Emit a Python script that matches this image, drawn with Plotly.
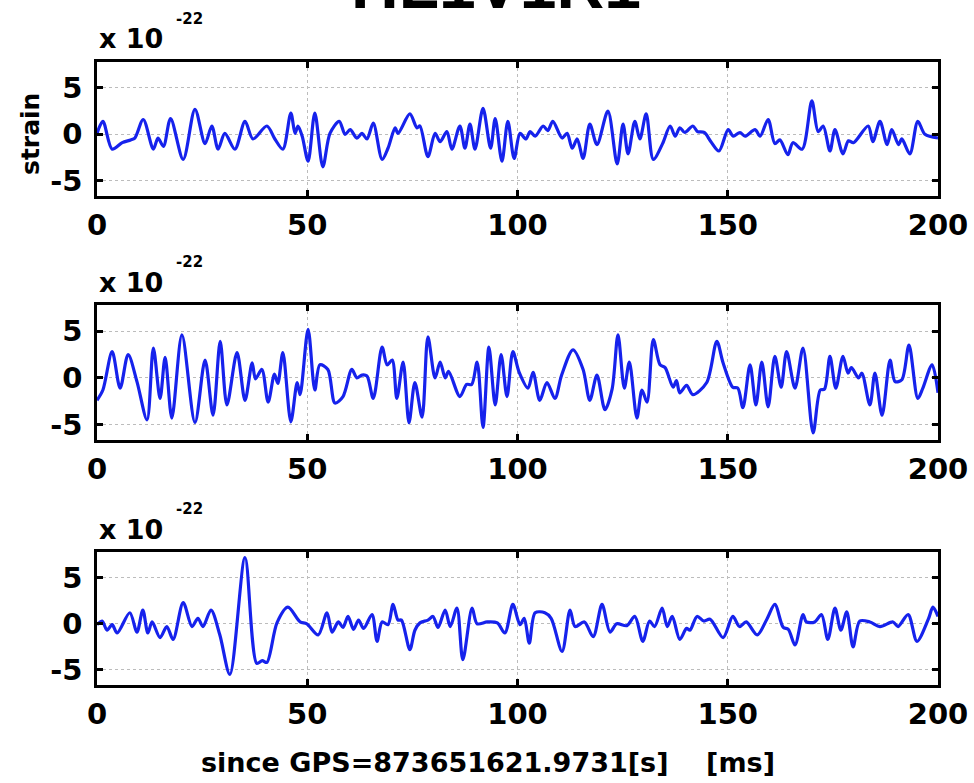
import plotly.graph_objects as go

# Whitened strain for three detectors, 0-200 ms (units of 1e-22)
t1 = [0, 1.4, 3.6, 6, 8, 9, 11, 13.4, 14.5, 15.8, 17.5, 20.5, 23.3, 25.7, 27.3, 28.8, 30.4,
      32.8, 35.2, 37.1, 40.4, 42.3, 44.2, 46.1, 47.1, 47.8, 48.8, 50.2, 51.8, 53.7, 55.4, 57.6,
      59, 60.2, 61.8, 63, 64.2, 65.7, 67.8, 69.2, 70.9, 71.6, 74.4, 76.1, 76.8, 78.7, 80.4,
      81.6, 83.2, 84.4, 86.3, 87.5, 88.7, 89.9, 91.8, 93.6, 94.7, 96.3, 97.7, 99.2, 100.6,
      102, 103, 104.2, 106.1, 107.2, 108.4, 110.6, 111.8, 113, 114.2, 115.6, 117.2, 118.9,
      121.5, 123.7, 125.1, 126.3, 127.9, 129.1, 130.6, 132.3, 134.5, 136.3, 137.5, 138.6,
      139.8, 141.7, 142.8, 144.4, 146, 147.9, 150.1, 151.3, 152.9, 154.1, 156.5, 157.7, 159.6,
      161.2, 162.4, 164.3, 165.5, 167.7, 170, 171.5, 172.7, 174.3, 175.5, 177.4, 178.7, 179.9,
      183.4, 184.5, 186.2, 187.9, 189, 190.6, 191.4, 193.3, 195.2, 196.9, 200]
s1 = [0.1, 1.4, -1.6, -0.9, -0.6, -0.4, 1.6, -1.6, -0.4, -1.3, 1.7, -2.7, 2.7, -1.0, 0.9, -1.6, 0.1,
      -1.6, 1.4, -0.5, 0.9, -0.5, -1.6, 2.3, 0.1, 0.9, -0.2, -2.9, 2.3, -3.5, 0.1, 1.4,
      0.0, 0.5, -0.4, 0.1, -0.5, 1.2, -2.7, -1.5, 0.7, 0.1, 2.2, 0.7, 0.9, -2.4, 0.1,
      -0.8, 0.3, -1.6, 0.9, -1.5, 1.1, -1.6, 2.8, -1.5, 1.7, -2.9, 1.4, -2.6, 0.1,
      -0.5, 0.3, -0.2, 0.9, 0.4, 1.4, -0.4, 0.1, -1.5, -0.5, -2.6, 1.1, -1.1,
      2.5, -3.2, 1.1, -2.1, 1.4, -0.5, 2.2, -2.7, -1.0, 0.9, -0.2, 0.7,
      0.2, 0.9, 0.3, 0.2, -0.8, -1.8, 0.5, -0.2, 0.2, -0.2, 0.5, -0.2, 1.6,
      -1.0, -0.6, -2.2, -0.9, -1.6, 3.6, 0.3, 0.9, -1.8, 0.5, -2.1, -0.7, -0.9,
      0.9, -0.8, 1.4, -1.1, 0.5, -1.1, -0.5, -2.1, 1.4, 0.0, -0.4]

t2 = [0, 1.4, 3.6, 5.5, 7.4, 9.5, 11.9, 13.4, 15, 16.2, 17.8, 20.2, 23.3, 25.7, 27.6, 29.3,
      30.9, 33.3, 35.2, 36.9, 37.7, 39.2, 40.7, 42.2, 43, 44.2, 46.1, 47.6, 48.3, 50.2, 51.8,
      53, 54.9, 56.6, 58.5, 60.6, 61.8, 63, 64.2, 65.7, 67.8, 69, 70.2, 71.3, 72.8, 74.2,
      75.6, 77.3, 78.7, 80.4, 81.6, 82.8, 83.6, 86.3, 87.9, 89.1, 90.4, 91.8, 93.2, 94.7,
      96.1, 97.5, 98.9, 100.4, 102.5, 103.7, 105.3, 107, 108.9, 110.5, 113.2, 115.6, 117.2,
      118.9, 120.8, 122.5, 123.9, 125.4, 126.6, 128.4, 129.6, 130.8, 132.3, 133.9, 135.1,
      137, 137.8, 138.6, 140.2, 141.7, 145, 147.4, 148.9, 151.2, 152.4, 153.6, 155.3, 156.7,
      158.1, 159.6, 161.2, 162.7, 164, 166, 167.9, 170.3, 172, 173, 174.3, 175.7, 177.4,
      178.6, 179.4, 181.1, 181.9, 183.8, 185, 186.7, 188.6, 189.8, 191.4, 193.1, 195.2,
      196.4, 198.6, 200]
s2 = [-2.4, -1.3, 2.8, -1.1, 2.5, -0.4, -4.5, 3.2, -2.2, 2.2, -4.3, 4.6, -4.8, 1.9, -4.0, 3.9,
      -2.9, 2.7, -2.4, 1.6, -0.1, 0.9, -2.6, 0.4, -0.6, 2.7, -4.7, -0.5, -1.8, 5.2, -1.3,
      1.4, 0.9, -2.7, -2.0, 0.9, 0.0, 0.3, 0.2, -2.2, 3.3, 1.4, 1.9, -2.2, 1.7, -4.8,
      -0.5, -4.2, 4.4, 0.0, 1.7, 0.0, 0.7, -2.0, -0.7, -0.7, 1.7, -5.3, 3.3, -2.9,
      2.5, -2.0, 2.8, 0.6, -1.1, 0.6, -2.4, -0.5, -2.2, 0.3, 3.0, 0.9, -2.4,
      0.3, -3.4, -1.2, 4.6, -1.1, 1.7, -4.3, -1.3, -2.6, 4.1, 1.4, 1.1,
      -1.0, -0.3, -1.6, -0.8, -1.8, -0.5, 3.9, 1.6, -1.0, -1.1, -3.2, 1.4, -2.9,
      1.7, -3.1, 2.3, -1.0, 2.8, -1.1, 3.2, -5.9, -1.3, -1.2, 2.3, -1.1, 2.3,
      0.5, 1.1, 0.0, 0.5, -2.9, 0.5, -4.0, 1.9, -0.4, -0.2, 3.5, -2.2,
      -1.1, 1.4, -1.6]

t3 = [0, 1.2, 2.4, 3.6, 4.8, 7.8, 9.5, 10.9, 12.1, 13.1, 15, 16.6, 18.1, 20.5, 22.6, 24, 25.2,
      27.1, 29.2, 31.6, 35.2, 38, 39.3, 40.4, 42.8, 45.4, 48.3, 49.9, 52.6, 54.7, 55.9, 57.4,
      58.5, 59.7, 61, 62.2, 63.4, 65.4, 66.6, 67.8, 69.2, 70.4, 71.6, 72.4, 74.4, 75.6, 76.8,
      78.7, 79.9, 81.1, 82.8, 84, 85.6, 87, 89.2, 90.4, 92.8, 95.2, 97, 98.9, 100.6, 101.6,
      102.8, 104.2, 106.5, 108, 110.6, 112.5, 113.7, 115.9, 118, 120.1, 122, 123.6, 126,
      127.9, 129.8, 131.4, 132.6, 134.4, 135.6, 136.8, 138.6, 140.2, 141, 142.7, 144.3,
      145.8, 148.9, 151.2, 152.8, 154.4, 157, 159.3, 161.2, 163.2, 164.4, 166, 167.9, 168.7,
      170.7, 172.3, 173.8, 175.5, 176.9, 178.3, 179.8, 181.4, 183.8, 186.2, 189.3, 190.5,
      192.9, 195, 197.7, 198.8, 200]
s3 = [-0.1, 0.3, -0.7, -0.1, -1.0, 1.2, -0.9, 1.5, -1.0, 0.2, -1.5, -0.3, -1.7, 2.3, -0.3, 0.6, -0.3,
      1.5, -1.2, -5.5, 7.2, -4.3, -4.0, -4.2, 0.1, 1.8, 0.2, 0.0, -1.2, 1.2, -0.9, 0.2,
      -0.4, 0.8, -0.6, 0.4, -0.5, 1.0, -1.9, 0.2, -0.1, 2.1, 0.4, 0.4, -2.8, -0.7, 0.1,
      0.4, 0.8, -0.4, 1.5, -0.3, 1.7, -3.9, 1.7, 0.0, 0.2, 0.1, -1.0, 2.1, -0.1, 0.6,
      -2.1, 1.2, 1.2, 0.6, -3.0, 1.5, -0.3, 0.2, -1.4, 2.1, -0.9, 0.0, -0.2,
      0.8, -1.9, 0.3, -0.3, 1.7, -0.3, 0.8, -1.7, -0.5, -0.7, 0.8, 0.3,
      0.5, -1.5, 0.8, -0.3, 0.2, -1.2, 0.5, 2.1, -0.4, -0.6, -2.3, 1.0, 0.2,
      0.2, 1.0, -1.7, 1.7, -0.7, 1.3, -2.5, 0.3, 0.2, -0.3, 0.2, -0.3,
      1.0, -1.9, 0.5, 1.8, 0.8]

x_ticks = [0, 50, 100, 150, 200]
y_ticks = [-5, 0, 5]
y_tick_text = ["-5", "0", "5"]
title_text = "HL1V1R1"
scale_text = "x 10"
exponent_text = "-22"
y_title = "strain"
x_title = "since GPS=873651621.9731[s]\u00a0\u00a0\u00a0\u00a0[ms]"

W, H = 974, 783
ML, MR, MT, MB = 97, 36, 62, 98
plot_h = H - MT - MB
plot_w = W - ML - MR


def py(pix):
    """pixel row -> paper y"""
    return (H - MB - pix) / plot_h


def px(pix):
    return (pix - ML) / plot_w


panels = [(t1, s1), (t2, s2), (t3, s3)]
tops = [62, 305, 552]
bottoms = [196, 440, 685]

BOLD = "DejaVu Sans"
blue = "rgb(22,34,236)"

fig = go.Figure()
annotations = []
for i, (t, s) in enumerate(panels):
    k = "" if i == 0 else str(i + 1)
    fig.add_trace(go.Scatter(
        x=t, y=s, mode="lines", xaxis="x" + k, yaxis="y" + k,
        line=dict(color=blue, width=3.2, shape="spline", smoothing=0.85),
        showlegend=False, hoverinfo="skip"))
    axis_common = dict(
        showline=True, mirror="ticks", linecolor="black", linewidth=2.6,
        ticks="inside", ticklen=6, tickwidth=2.6, tickcolor="black",
        showgrid=True, gridcolor="#bcbcbc", griddash="dot", gridwidth=1,
        zeroline=False,
        tickfont=dict(family=BOLD, size=29, color="black", weight="bold"),
    )
    fig.layout["xaxis" + k] = dict(
        axis_common, domain=[0, 1], range=[0, 200], tickvals=x_ticks,
        anchor="y" + k, ticklabelstandoff=1)
    fig.layout["yaxis" + k] = dict(
        axis_common, domain=[py(bottoms[i]), py(tops[i])], range=[-6.65, 7.8],
        tickvals=y_ticks, ticktext=y_tick_text, anchor="x" + k,
        ticklabelstandoff=6)
    annotations.append(dict(
        text=scale_text, xref="paper", yref="paper", x=px(97), y=py(tops[i] - 23),
        xanchor="left", yanchor="middle", showarrow=False,
        font=dict(family=BOLD, size=27, color="black", weight="bold")))
    annotations.append(dict(
        text=exponent_text, xref="paper", yref="paper", x=px(189), y=py(tops[i] - 43),
        xanchor="center", yanchor="middle", showarrow=False,
        font=dict(family=BOLD, size=15, color="black", weight="bold")))

annotations.append(dict(
    text=y_title, xref="paper", yref="paper", x=px(30), y=py(134), textangle=-90,
    xanchor="center", yanchor="middle", showarrow=False,
    font=dict(family=BOLD, size=25, color="black", weight="bold")))
annotations.append(dict(
    text=x_title, xref="paper", yref="paper", x=px(488), y=py(762),
    xanchor="center", yanchor="middle", showarrow=False,
    font=dict(family=BOLD, size=27, color="black", weight="bold")))

# figure heading sits mostly above the page top
fig.update_layout(
    title=dict(text=title_text, x=px(496) * plot_w / W + ML / W, xanchor="center",
               yref="container", y=1 - 8 / H, yanchor="bottom",
               font=dict(family="Liberation Sans", size=66, color="black", weight="bold")),
    width=W, height=H, margin=dict(l=ML, r=MR, t=MT, b=MB, autoexpand=False),
    paper_bgcolor="white", plot_bgcolor="white", annotations=annotations)

fig.write_html("out.html")
